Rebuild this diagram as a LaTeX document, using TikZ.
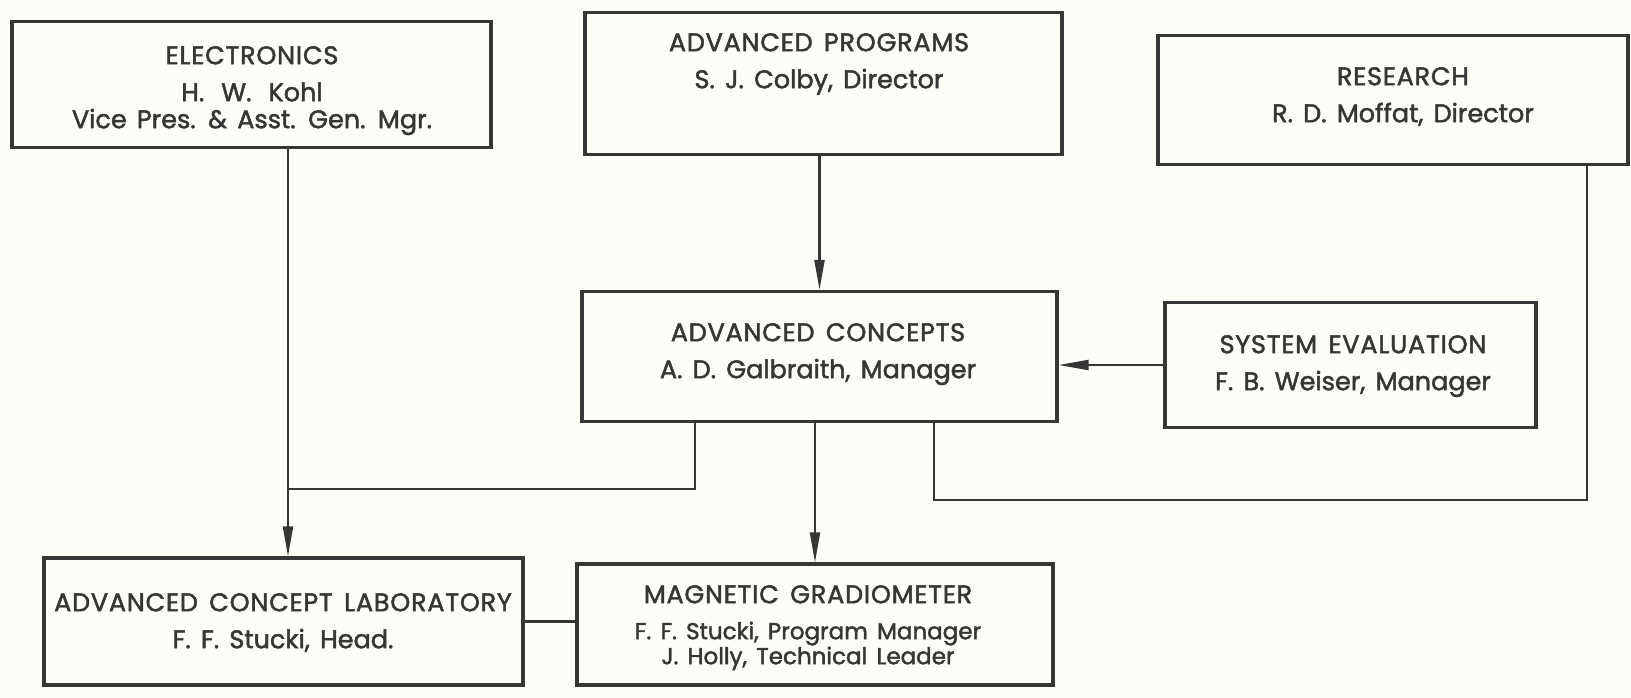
\documentclass[tikz,border=0pt]{standalone}
\usepackage{fontspec}
\setmainfont{Poppins}[FakeBold=1.8, WordSpace=1.5]
\usetikzlibrary{arrows.meta,calc,positioning}

\definecolor{ink}{HTML}{363636}
\definecolor{paper}{HTML}{FDFCF6}
\newcommand{\orgfont}{\fontsize{25.5}{27}\selectfont}
\newcommand{\smallorgfont}{\fontsize{23}{25}\selectfont}
\newcommand{\ttl}[1]{{\orgfont\addfontfeature{LetterSpace=3}#1}}

\begin{document}
\begin{tikzpicture}[x=1pt, y=-1pt,
    box/.style={draw=ink, line width=3.2pt, rectangle, inner sep=0pt},
    txt/.style={anchor=north, inner sep=0pt, align=center, text=ink, font=\orgfont},
    link/.style={draw=ink, line width=2.2pt},
    arr/.style={link, -{Triangle[length=30pt,width=10pt]}}]

    \fill[paper] (0,0) rectangle (1631,698);

    % boxes
    \node[box, minimum width=479pt, minimum height=126pt] (elec) at (251.5,84.5) {};
    \node[box, minimum width=477pt, minimum height=142pt] (prog) at (823.5,83.5) {};
    \node[box, minimum width=470pt, minimum height=129pt] (res) at (1393,100) {};
    \node[box, minimum width=475pt, minimum height=130pt] (conc) at (819.5,356.5) {};
    \node[box, minimum width=371pt, minimum height=125pt] (eval) at (1350.5,365) {};
    \node[box, minimum width=479pt, minimum height=127pt] (lab) at (283.5,621.5) {};
    \node[box, minimum width=476pt, minimum height=121pt] (mag) at (815,624.5) {};

    % texts
    \node[txt] (elect) at (252,46) {\ttl{ELECTRONICS}\\[10pt] H.\hspace{17pt}W.\hspace{17pt}Kohl\\ Vice Pres. \& Asst. Gen. Mgr.};
    \node[txt] (progt) at (819,33) {\ttl{ADVANCED PROGRAMS}\\[10pt] S. J. Colby, Director};
    \node[txt] (rest) at (1403,67) {\ttl{RESEARCH}\\[10pt] R. D. Moffat, Director};
    \node[txt] (conct) at (818,323) {\ttl{ADVANCED CONCEPTS}\\[10pt] A. D. Galbraith, Manager};
    \node[txt] (evalt) at (1353,335) {\ttl{SYSTEM EVALUATION}\\[10pt] F. B. Weiser, Manager};
    \node[txt] (labt) at (283,593) {\ttl{ADVANCED CONCEPT LABORATORY}\\[10pt] F. F. Stucki, Head.};
    \node[txt, font=\smallorgfont] (magt) at (808,585) {\ttl{MAGNETIC GRADIOMETER}\\[11pt] F. F. Stucki, Program Manager\\ J. Holly, Technical Leader};

    % connectors
    \coordinate (j1) at (288,489);
    \coordinate (j2) at (1587,500);

    \draw[arr] (j1 |- elec.south) -- (j1 |- lab.north);
    \draw[link] ($(conc.south west)!.24!(conc.south east)$) |- (j1);
    \draw[arr] (conc.north |- prog.south) -- (conc.north);
    \draw[arr] (eval.west) -- (eval.west -| conc.east);
    \draw[arr] (mag.north |- conc.south) -- (mag.north);
    \draw[link] ($(conc.south west)!.74!(conc.south east)$) |- (j2) -- (j2 |- res.south);
    \draw[link] (lab.east) -- (lab.east -| mag.west);
\end{tikzpicture}
\end{document}
